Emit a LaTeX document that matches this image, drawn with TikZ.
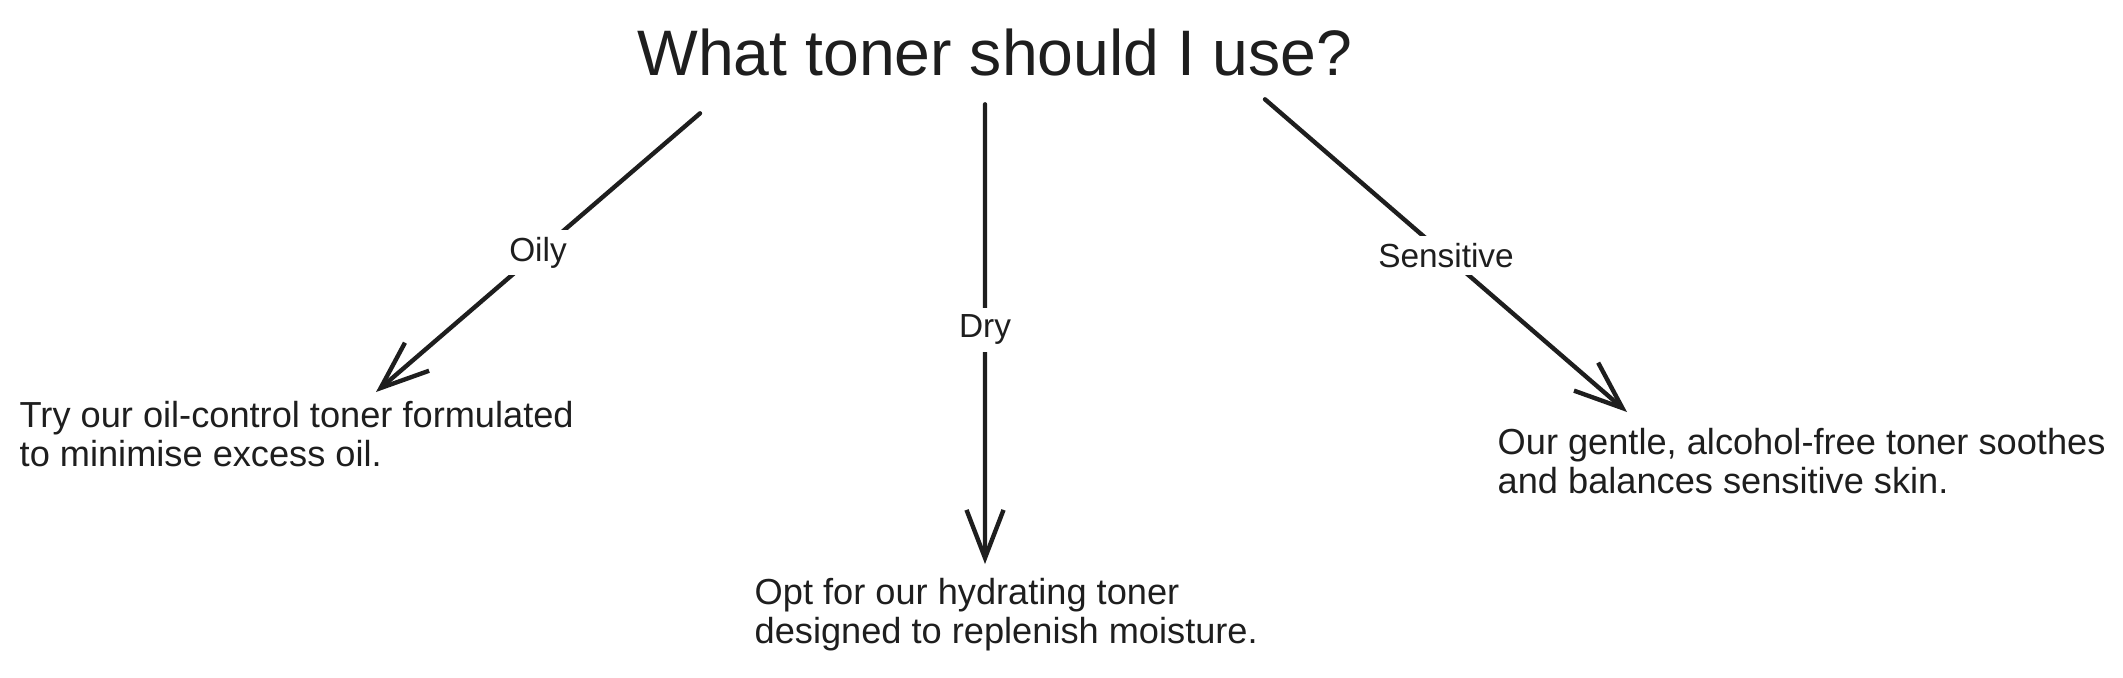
\documentclass[tikz,border=0pt]{standalone}
\usepackage{fontspec}
\setmainfont{Liberation Sans}
\usetikzlibrary{arrows.meta}
\definecolor{ink}{HTML}{1E1E1E}
\begin{document}
\begin{tikzpicture}[x=1cm,y=1cm,
  answer/.style={anchor=north west,align=left,inner sep=0pt,text=ink,font=\fontsize{10.3}{11.1}\selectfont},
  arr/.style={draw=ink,line width=1.25pt,line cap=round,-{Straight Barb[length=4.8mm,width=3.7mm,line width=1.25pt]}},
  choice/.style={fill=white,inner sep=2pt,text=ink,font=\fontsize{9.5}{11}\selectfont}]
\useasboundingbox (0,0) rectangle (21.23,6.77);
\node[anchor=base,inner sep=0pt,text=ink,font=\fontsize{18.3}{20}\selectfont] (title) at (9.95,6.02) {What toner should I use?};

\node[answer] (oily) at (0.19,2.76) {Try our oil-control toner formulated\\to minimise excess oil.};
\node[answer] (dry) at (7.54,0.99) {Opt for our hydrating toner\\designed to replenish moisture.};
\node[answer] (sens) at (14.97,2.49) {Our gentle, alcohol-free toner soothes\\and balances sensitive skin.};

\draw[arr] ([xshift=-2.95cm,yshift=-0.37cm]title.south) -- node[choice] {Oily} ([xshift=3.57cm,yshift=0.09cm]oily.north west);
\draw[arr] ([xshift=-0.10cm,yshift=-0.28cm]title.south) -- node[choice,pos=0.49] {Dry} ([xshift=2.31cm,yshift=0.14cm]dry.north west);
\draw[arr] ([xshift=2.70cm,yshift=-0.23cm]title.south) -- node[choice] {Sensitive} ([xshift=1.30cm,yshift=0.16cm]sens.north west);
\end{tikzpicture}
\end{document}
